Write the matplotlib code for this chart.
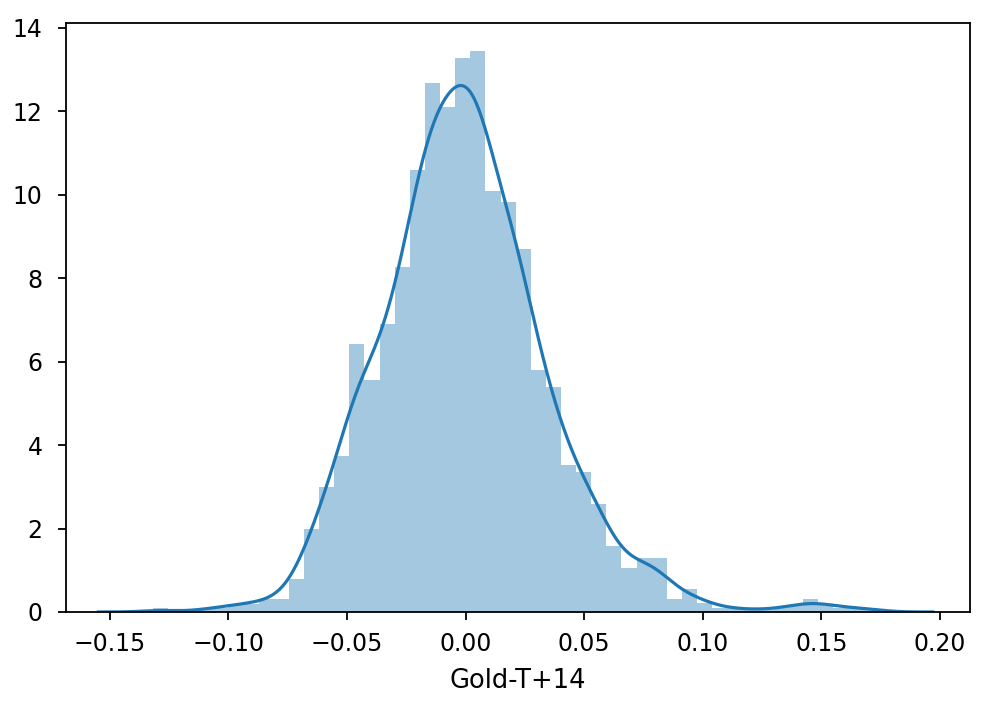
import numpy as np
import matplotlib
matplotlib.use("Agg")
import matplotlib.pyplot as plt

# Histogram (density)
bin_start = -0.1319
bin_width = 0.006375
bar_heights = [
    0.10, 0.00, 0.00, 0.10, 0.10, 0.20, 0.20, 0.30, 0.30,          # left tail
    0.78, 2.00, 3.00, 3.73, 6.42, 5.56, 6.90, 8.27, 10.60,
    12.67, 12.10, 13.27, 13.45,                                     # up to peak
    10.09, 9.82, 8.71, 5.81, 5.39, 3.52, 3.36, 2.58, 1.57, 1.06,
    1.29, 1.29, 0.32, 0.55, 0.22,                                   # right side
    0.10, 0.10, 0.05, 0.05, 0.10, 0.15, 0.30, 0.20, 0.10, 0.10, 0.10  # right tail
]
x_label = "Gold-T+14"
x_ticks = [-0.15, -0.10, -0.05, 0.00, 0.05, 0.10, 0.15, 0.20]
y_ticks = [0, 2, 4, 6, 8, 10, 12, 14]
n_obs = 1570

heights = np.array(bar_heights)
edges = bin_start + bin_width * np.arange(len(heights) + 1)
centers = (edges[:-1] + edges[1:]) / 2

# KDE of the binned data (gaussian kernel, Scott bandwidth with robust spread, cut=3)
w = heights / heights.sum()
mean = np.sum(w * centers)
std = np.sqrt(np.sum(w * (centers - mean) ** 2))
cdf = np.concatenate([[0], np.cumsum(w)])
q1, q3 = np.interp([0.25, 0.75], cdf, edges)
spread = min(std, (q3 - q1) / 1.349)
bw = 1.059 * spread * n_obs ** (-0.2)
grid = np.linspace(edges[0] - 3 * bw, edges[-1] + 3 * bw, 600)
dens = np.sum(w[None, :] * np.exp(-0.5 * ((grid[:, None] - centers[None, :]) / bw) ** 2), axis=1) / (bw * np.sqrt(2 * np.pi))

fig = plt.figure(figsize=(9.86, 7.08), dpi=100)
ax = fig.add_axes([0.067, 0.1356, 0.917, 0.832])
color = "#1f77b4"
ax.hist(centers, bins=edges, weights=heights, color=color, alpha=0.4)
ax.plot(grid, dens, color=color, lw=2.3)

ax.set_xlim(-0.1685, 0.2128)
ax.set_ylim(0, 14.12)
ax.set_xticks(x_ticks)
ax.set_xticklabels([f"{t:.2f}".replace("-", "\u2212") for t in x_ticks])
ax.set_yticks(y_ticks)
ax.tick_params(labelsize=17, length=5.8, width=1.3)
ax.tick_params(axis="x", pad=8.5)
ax.tick_params(axis="y", pad=11)
for s in ax.spines.values():
    s.set_linewidth(1.3)
ax.set_xlabel(x_label, fontsize=18.5, labelpad=9)

fig.savefig("out.png", dpi=100)
